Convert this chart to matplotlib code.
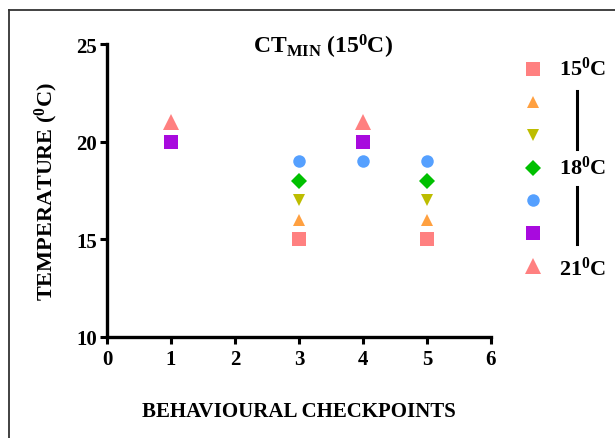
import matplotlib
matplotlib.use("Agg")
import matplotlib.pyplot as plt
from matplotlib.lines import Line2D

plt.rcParams['font.family'] = ['Liberation Serif', 'DejaVu Serif']
plt.rcParams['font.weight'] = 'bold'
plt.rcParams['mathtext.fontset'] = 'custom'
plt.rcParams['mathtext.rm'] = 'Liberation Serif:bold'
plt.rcParams['mathtext.it'] = 'Liberation Serif:bold'
plt.rcParams['mathtext.bf'] = 'Liberation Serif:bold'

# ---- data ----
title = r'CT$_{\rm MIN}$ (15$^{0}$C)'
xlabel = 'BEHAVIOURAL CHECKPOINTS'
ylabel = r'TEMPERATURE ($^{0}$C)'
legend_labels = [r'15$^{0}$C', r'18$^{0}$C', r'21$^{0}$C']
series_x = [[3, 5], [3, 5], [3, 5], [3, 5], [3, 4, 5], [1, 4], [1, 4]]
series_y = [[15, 15], [16, 16], [17, 17], [18, 18], [19, 19, 19], [20, 20], [21, 21]]
series_colors = ['#FF8080', '#FFA040', '#BDBD00', '#00C000', '#55A0FF', '#A80ADE', '#FF8080']
series_markers = ['s', '^', 'v', 'D', 'o', 's', '^']
series_sizes = [9.5, 9, 9, 8, 9, 10, 12]
xticks = [0, 1, 2, 3, 4, 5, 6]
yticks = [10, 15, 20, 25]

fig = plt.figure(figsize=(6.15, 4.39), dpi=100)
W, H = 615, 439
ax = fig.add_axes([107 / W, (H - 338) / H, 384 / W, (338 - 45) / H])

handles = []
for xs, ys, c, m, s in zip(series_x, series_y, series_colors, series_markers, series_sizes):
    h, = ax.plot(xs, ys, linestyle='none', marker=m, markersize=s, color=c,
                 markeredgewidth=0, clip_on=False)
    handles.append(h)

ax.set_xlim(0, 6)
ax.set_ylim(10, 25)
ax.set_xticks(xticks)
ax.set_yticks(yticks)
for sp in ['top', 'right']:
    ax.spines[sp].set_visible(False)
for sp in ['left', 'bottom']:
    ax.spines[sp].set_linewidth(2.4)
    ax.spines[sp].set_color('black')
ax.tick_params(direction='out', length=5, width=2.2, labelsize=15, pad=2)
for t in ax.get_xticklabels() + ax.get_yticklabels():
    t.set_fontweight('bold')
ax.tick_params(axis='x', pad=4)

ax.set_title(title, fontsize=17, fontweight='bold', pad=-6, x=0.5625, y=1.0)
ax.set_xlabel(xlabel, fontsize=15, fontweight='bold', labelpad=23)
ax.set_ylabel(ylabel, fontsize=16, fontweight='bold', labelpad=12)

leg = fig.legend(handles, [''] * len(handles), loc='upper left',
                 bbox_to_anchor=(515 / W, 1 - 55 / H), frameon=False,
                 fontsize=14, handlelength=1.0, handletextpad=0.5,
                 labelspacing=0.79, borderaxespad=0)

label_baselines = [76, 175, 276]
for lab, yb in zip(legend_labels, label_baselines):
    fig.text(559 / W, 1 - yb / H, lab, fontsize=16, fontweight='bold',
             va='baseline', ha='left')

# bracket lines in legend
fig.add_artist(Line2D([577 / W, 577 / W], [1 - 92 / H, 1 - 150 / H],
                      transform=fig.transFigure, color='black', linewidth=2.2))
fig.add_artist(Line2D([577 / W, 577 / W], [1 - 188 / H, 1 - 245 / H],
                      transform=fig.transFigure, color='black', linewidth=2.2))

# outer frame (left and top edges visible)
fig.add_artist(Line2D([9 / W, 9 / W], [0, 1 - 11 / H], transform=fig.transFigure,
                      color='#333333', linewidth=1.3))
fig.add_artist(Line2D([9 / W, 1], [1 - 11 / H, 1 - 11 / H], transform=fig.transFigure,
                      color='#333333', linewidth=1.3))

fig.savefig('out.png', dpi=100)
